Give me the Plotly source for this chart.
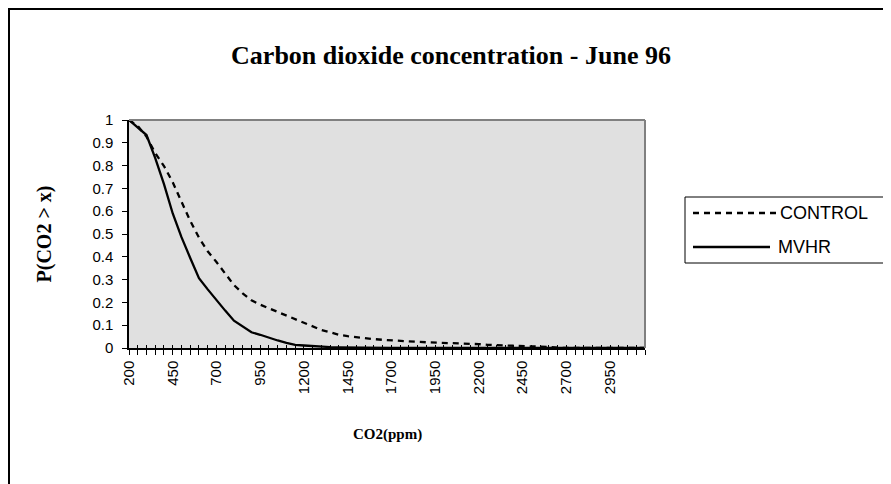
import plotly.graph_objects as go

# CO2 level categories (ppm) on the x axis
co2_ppm = [200, 250, 300, 350, 400, 450, 500, 550, 600, 650,
           700, 750, 800, 850, 900, 950, 1000, 1050, 1100, 1150,
           1200, 1250, 1300, 1350, 1400, 1450, 1500, 1550, 1600, 1650,
           1700, 1750, 1800, 1850, 1900, 1950, 2000, 2050, 2100, 2150,
           2200, 2250, 2300, 2350, 2400, 2450, 2500, 2550, 2600, 2650,
           2700, 2750, 2800, 2850, 2900, 2950, 3000, 3050, 3100, 3150]

# P(CO2 > x)
control = [1.0, 0.974, 0.927, 0.855, 0.798, 0.727, 0.642, 0.558, 0.484, 0.424,
           0.377, 0.328, 0.276, 0.240, 0.209, 0.190, 0.174, 0.158, 0.142, 0.126,
           0.110, 0.092, 0.079, 0.069, 0.058, 0.052, 0.047, 0.042, 0.039, 0.036,
           0.033, 0.031, 0.029, 0.027, 0.025, 0.024, 0.022, 0.021, 0.020, 0.019,
           0.017, 0.014, 0.012, 0.010, 0.009, 0.008, 0.007, 0.006, 0.004, 0.0,
           0.0, 0.0, 0.0, 0.0, 0.0, 0.0, 0.0, 0.0, 0.0, 0.0]
mvhr = [1.0, 0.967, 0.934, 0.833, 0.719, 0.590, 0.486, 0.395, 0.306, 0.257,
        0.208, 0.164, 0.120, 0.094, 0.069, 0.058, 0.044, 0.033, 0.023, 0.014,
        0.011, 0.008, 0.005, 0.004, 0.003, 0.002, 0.001, 0.0, 0.0, 0.0,
        0.0, 0.0, 0.0, 0.0, 0.0, 0.0, 0.0, 0.0, 0.0, 0.0,
        0.0, 0.0, 0.0, 0.0, 0.0, 0.0, 0.0, 0.0, 0.0, 0.0,
        0.0, 0.0, 0.0, 0.0, 0.0, 0.0, 0.0, 0.0, 0.0, 0.0]

series_names = ["CONTROL", "MVHR"]

# page body has an 8px margin, figure origin sits at (8, 8) in the window
W, H = 883, 476
L, R, T, B = 121, 637, 112, 340          # plot area in figure pixels
SERIF = "Liberation Serif, Times New Roman, serif"
SANS = "Liberation Sans, Arial, sans-serif"
DASH = "6px,5px"


def px(x):
    return (x - L) / (R - L)


def py(y):
    return (B - y) / (B - T)


fig = go.Figure()
fig.add_trace(go.Scatter(x=co2_ppm, y=control, mode="lines", name=series_names[0],
                         line=dict(color="black", width=2.3, dash=DASH)))
fig.add_trace(go.Scatter(x=co2_ppm, y=mvhr, mode="lines", name=series_names[1],
                         line=dict(color="black", width=2.3)))
# empty trace so the overlay axis (upper half of the cross ticks) gets drawn
fig.add_trace(go.Scatter(x=[co2_ppm[0]], y=[mvhr[0]], xaxis="x2", mode="lines",
                         hoverinfo="skip", showlegend=False,
                         line=dict(width=0)))

fig.update_layout(
    width=W, height=H,
    margin=dict(l=L, r=W - R, t=T, b=H - B),
    paper_bgcolor="white", plot_bgcolor="#e0e0e0",
    showlegend=False,
    font=dict(family=SANS, size=15, color="black"),
    title=dict(text="<b>Carbon dioxide concentration - June 96</b>",
               x=px(443), xref="paper", xanchor="center",
               y=1 - 47 / H, yanchor="middle",
               font=dict(family=SERIF, size=26, color="black")),
)

fig.update_layout(xaxis=dict(
    range=[200, 3150], tickmode="linear", tick0=200, dtick=250,
    ticks="outside", ticklen=5, tickcolor="black", tickangle=-90,
    minor=dict(dtick=50, tick0=200, ticks="outside", ticklen=5, tickcolor="black"),
    showline=True, linecolor="black", linewidth=1.5,
    showgrid=False, zeroline=False,
    tickfont=dict(family=SANS, size=15)))
fig.update_layout(xaxis2=dict(
    overlaying="x", anchor="y", side="bottom",
    range=[200, 3150], tickmode="linear", tick0=200, dtick=250,
    ticks="inside", ticklen=3, tickcolor="black", showticklabels=False,
    minor=dict(dtick=50, tick0=200, ticks="inside", ticklen=3, tickcolor="black"),
    showline=False, showgrid=False, zeroline=False))
fig.update_yaxes(range=[0, 1], tickmode="linear", tick0=0, dtick=0.1,
                 ticks="outside", ticklen=5, tickcolor="black",
                 ticklabelstandoff=6,
                 showline=True, linecolor="black", linewidth=1.5,
                 showgrid=False, zeroline=False,
                 tickfont=dict(family=SANS, size=15))

# grey frame on top and right of plot area
fig.add_shape(type="line", xref="paper", yref="paper", x0=0, x1=1, y0=1, y1=1,
              line=dict(color="#808080", width=2))
fig.add_shape(type="line", xref="paper", yref="paper", x0=1, x1=1, y0=0, y1=1,
              line=dict(color="#808080", width=2))

# outer chart border (runs off the right and bottom edges)
fig.add_shape(type="rect", xref="paper", yref="paper",
              x0=px(1), x1=px(W + 20), y0=py(1), y1=py(H + 20),
              line=dict(color="black", width=2))

# axis titles
fig.add_annotation(text="<b>P(CO2 > x)</b>", xref="paper", yref="paper",
                   x=px(22), y=0.5, textangle=-90, showarrow=False,
                   font=dict(family=SERIF, size=20))
fig.add_annotation(text="<b>CO2(ppm)</b>", xref="paper", yref="paper",
                   x=0.5, y=py(437), showarrow=False,
                   font=dict(family=SERIF, size=15))

# legend box
fig.add_shape(type="rect", xref="paper", yref="paper",
              x0=px(677), x1=px(W + 20), y0=py(189), y1=py(255),
              line=dict(color="black", width=1), fillcolor="white")
fig.add_shape(type="line", xref="paper", yref="paper",
              x0=px(685), x1=px(769), y0=py(205), y1=py(205),
              line=dict(color="black", width=2.3, dash=DASH))
fig.add_shape(type="line", xref="paper", yref="paper",
              x0=px(685), x1=px(762), y0=py(239), y1=py(239),
              line=dict(color="black", width=2.3))
fig.add_annotation(text=series_names[0], xref="paper", yref="paper",
                   x=px(770), y=py(205), xanchor="left", showarrow=False,
                   font=dict(family=SANS, size=18))
fig.add_annotation(text=series_names[1], xref="paper", yref="paper",
                   x=px(768), y=py(239), xanchor="left", showarrow=False,
                   font=dict(family=SANS, size=18))

fig.write_html("out.html")
